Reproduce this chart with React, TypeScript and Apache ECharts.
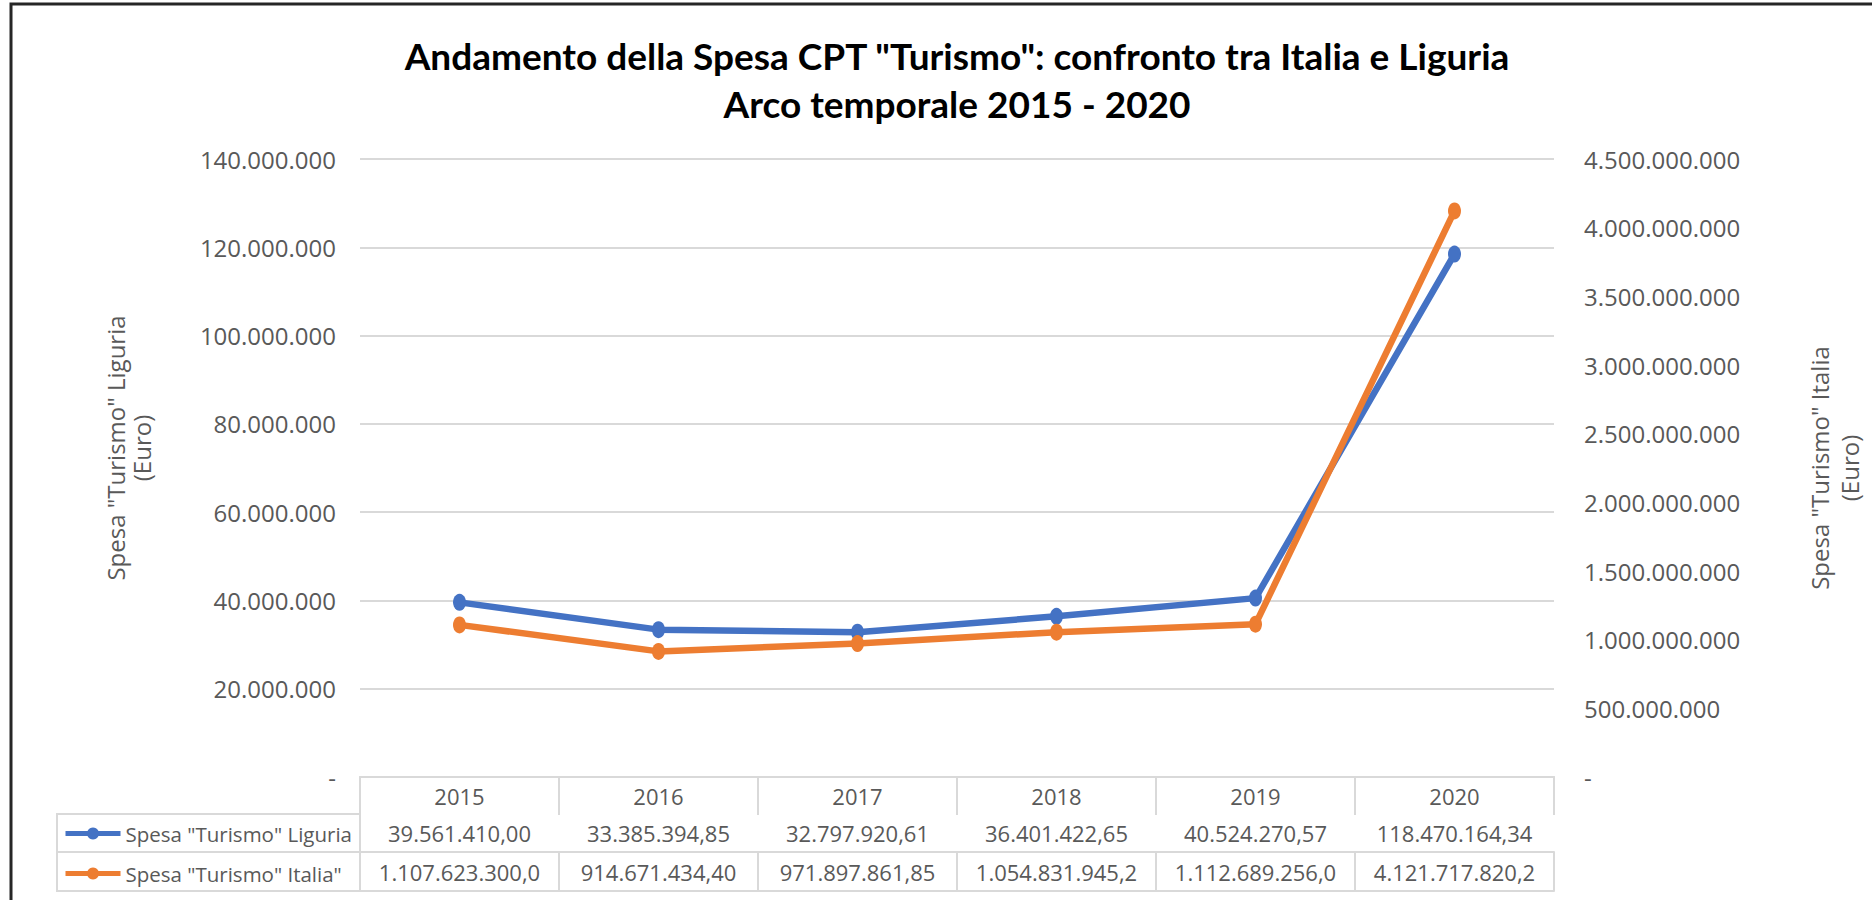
import React, { useEffect, useRef } from 'react';
import * as echarts from 'echarts';

const years = ['2015', '2016', '2017', '2018', '2019', '2020'];
const liguria = [39561410.0, 33385394.85, 32797920.61, 36401422.65, 40524270.57, 118470164.34];
const italia = [1107623300.0, 914671434.4, 971897861.85, 1054831945.2, 1112689256.0, 4121717820.2];
const liguriaLabels = ['39.561.410,00', '33.385.394,85', '32.797.920,61', '36.401.422,65', '40.524.270,57', '118.470.164,34'];
const italiaLabels = ['1.107.623.300,0', '914.671.434,40', '971.897.861,85', '1.054.831.945,2', '1.112.689.256,0', '4.121.717.820,2'];
const leftAxis = { min: 0, max: 140000000, interval: 20000000 };
const rightAxis = { min: 0, max: 4500000000, interval: 500000000 };
const seriesNames = ['Spesa "Turismo" Liguria', 'Spesa "Turismo" Italia"'];
const titleLines = ['Andamento della Spesa CPT "Turismo": confronto tra Italia e Liguria', 'Arco temporale 2015 - 2020'];
const leftName = 'Spesa "Turismo" Liguria\n(Euro)';
const rightName = 'Spesa "Turismo" Italia\n(Euro)';

const FONT = '"Open Sans", "Noto Sans", sans-serif';
const GRAY = '#595959';
const LINE = '#d9d9d9';

const fmt = (v: number) => (v === 0 ? '-' : String(Math.round(v)).replace(/\B(?=(\d{3})+(?!\d))/g, '.'));

export default function App() {
  const ref = useRef<HTMLDivElement>(null);
  useEffect(() => {
    if (!ref.current) return;
    const chart = echarts.init(ref.current, undefined, { renderer: 'svg' });
    const G = { left: 360, right: 312, top: 159, bottom: 123 };
    const tableX = (row: number) => ({
      type: 'category',
      gridIndex: 0,
      position: 'bottom',
      offset: [0, 37, 75][row],
      data: [years, liguriaLabels, italiaLabels][row],
      boundaryGap: true,
      axisLine: { show: true, lineStyle: { color: LINE, width: 2 } },
      axisTick: { show: true, interval: 0, length: [37, 38, 39][row], lineStyle: { color: LINE, width: 2 } },
      axisLabel: {
        interval: 0,
        margin: 0,
        fontFamily: FONT,
        fontSize: 22,
        color: GRAY,
        lineHeight: [38, 38, 40][row],
        verticalAlign: 'top',
      },
      splitLine: { show: false },
    });
    chart.setOption({
      animation: false,
      backgroundColor: '#ffffff',
      title: {
        text: titleLines.join('\n'),
        left: 952,
        top: 26,
        textAlign: 'center',
        textStyle: {
          fontFamily: 'Lato, "Open Sans", sans-serif',
          fontWeight: 'bold',
          fontSize: 37,
          lineHeight: 48,
          color: '#000',
        },
      },
      legend: {
        orient: 'vertical',
        left: 63,
        top: 823,
        padding: 0,
        itemGap: 19,
        itemWidth: 55,
        itemHeight: 15,
        lineStyle: { width: 5 },
        data: seriesNames,
        textStyle: { fontFamily: FONT, fontSize: 20.5, color: GRAY, lineHeight: 20 },
      },
      grid: { ...G, containLabel: false },
      xAxis: [
        tableX(0),
        tableX(1),
        tableX(2),
        {
          type: 'category',
          gridIndex: 0,
          position: 'bottom',
          offset: 114,
          data: years,
          axisLine: { show: true, lineStyle: { color: LINE, width: 2 } },
          axisTick: { show: false },
          axisLabel: { show: false },
        },
      ],
      yAxis: [
        {
          type: 'value',
          position: 'left',
          ...leftAxis,
          axisLine: { show: false },
          axisTick: { show: false },
          splitLine: { show: true, lineStyle: { color: LINE, width: 2 } },
          axisLabel: { formatter: fmt, fontFamily: FONT, fontSize: 24, color: GRAY, margin: 24 },
          name: leftName,
          nameLocation: 'middle',
          nameRotate: 90,
          nameGap: 206,
          nameTextStyle: { fontFamily: FONT, fontSize: 24, color: GRAY, lineHeight: 26, align: 'center', padding: [0, 0, 0, 40] },
        },
        {
          type: 'value',
          position: 'right',
          ...rightAxis,
          axisLine: { show: false },
          axisTick: { show: false },
          splitLine: { show: false },
          axisLabel: { formatter: fmt, fontFamily: FONT, fontSize: 24, color: GRAY, margin: 30 },
          name: rightName,
          nameLocation: 'middle',
          nameRotate: 90,
          nameGap: 250,
          nameTextStyle: { fontFamily: FONT, fontSize: 24, color: GRAY, lineHeight: 30, align: 'center' },
        },
      ],
      series: [
        {
          name: seriesNames[0],
          type: 'line',
          xAxisIndex: 0,
          yAxisIndex: 0,
          data: liguria,
          symbol: 'circle',
          symbolSize: [13, 17],
          lineStyle: { width: 6.5, color: '#4472C4' },
          itemStyle: { color: '#4472C4' },
        },
        {
          name: seriesNames[1],
          type: 'line',
          xAxisIndex: 0,
          yAxisIndex: 1,
          data: italia,
          symbol: 'circle',
          symbolSize: [13, 17],
          lineStyle: { width: 6.5, color: '#ED7D31' },
          itemStyle: { color: '#ED7D31' },
        },
      ],
      graphic: [
        {
          type: 'polyline',
          shape: { points: [[11, 900], [11, 4], [1872, 4]] },
          style: { stroke: '#262626', lineWidth: 3, fill: 'none' },
        },
        {
          type: 'rect',
          shape: { x: 57, y: 814, width: 303, height: 77 },
          style: { stroke: LINE, lineWidth: 2, fill: 'none' },
        },
        {
          type: 'line',
          shape: { x1: 57, y1: 852, x2: 360, y2: 852 },
          style: { stroke: LINE, lineWidth: 2 },
        },
      ],
    });
    return () => chart.dispose();
  }, []);
  return <div ref={ref} style={{ position: 'fixed', left: 0, top: 0, width: 1872, height: 900, background: '#fff' }} />;
}
